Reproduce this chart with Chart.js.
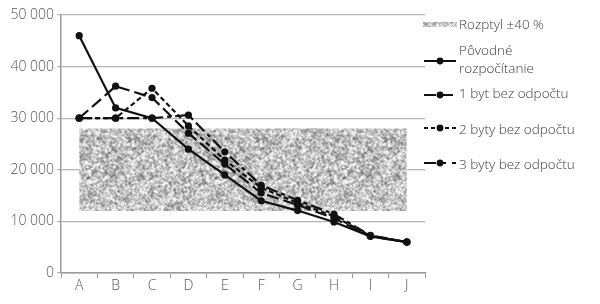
<!DOCTYPE html>
<html>
<head>
<meta charset="utf-8">
<script src="https://cdn.jsdelivr.net/npm/chart.js@4/dist/chart.umd.min.js"></script>
<style>
  html, body { margin: 0; padding: 0; background: #fff; }
  #wrap { position: relative; width: 600px; height: 304px; }
  #c { position: absolute; left: 0; top: 0; }
  .lg { position: absolute; left: 459px; font-family: "Open Sans", sans-serif; font-weight: 300; font-size: 13.5px; color: #3c3c3c; line-height: 18px; white-space: nowrap; }
  .sw { position: absolute; left: 423px; }
</style>
</head>
<body>
<div id="wrap">
  <canvas id="c" width="600" height="304"></canvas>
  <canvas class="sw" id="sw0" width="34" height="8" style="top:21px"></canvas>
  <div class="lg" style="top:15px">Rozptyl ±40 %</div>
  <canvas class="sw" id="sw1" width="34" height="10" style="top:56px"></canvas>
  <div class="lg" style="top:41px">Pôvodné<br>rozpočítanie</div>
  <canvas class="sw" id="sw2" width="34" height="10" style="top:90px"></canvas>
  <div class="lg" style="top:84px">1 byt bez odpočtu</div>
  <canvas class="sw" id="sw3" width="34" height="10" style="top:123px"></canvas>
  <div class="lg" style="top:120px">2 byty bez odpočtu</div>
  <canvas class="sw" id="sw4" width="34" height="10" style="top:158px"></canvas>
  <div class="lg" style="top:155px">3 byty bez odpočtu</div>
</div>
<script>
// ---- data ----
const categories = ['A','B','C','D','E','F','G','H','I','J'];
const povodne = [46000, 32000, 30000, 24000, 19000, 14000, 12100, 9900, 7100, 6000];
const byt1    = [30000, 36200, 34000, 27100, 21100, 15500, 13200, 10600, 7100, 6000];
const byty2   = [30000, 30000, 35800, 28500, 21900, 16500, 13600, 11000, 7200, 6000];
const byty3   = [30000, 30000, 30000, 30600, 23500, 17000, 14100, 11400, 7300, 6000];
const rozptylHorna = [28000, 28000, 28000, 28000, 28000, 28000, 28000, 28000, 28000, 28000];
const rozptylDolna = [12000, 12000, 12000, 12000, 12000, 12000, 12000, 12000, 12000, 12000];
const yTicks = [0, 10000, 20000, 30000, 40000, 50000];

// ---- texture for the band (deterministic noise, styling only) ----
function makeNoise(w, h) {
  const cv = document.createElement('canvas');
  cv.width = w; cv.height = h;
  const cx = cv.getContext('2d');
  const img = cx.createImageData(w, h);
  let a = 1337;
  const rnd = () => {
    a |= 0; a = a + 0x6D2B79F5 | 0;
    let t = Math.imul(a ^ a >>> 15, 1 | a);
    t = t + Math.imul(t ^ t >>> 7, 61 | t) ^ t;
    return ((t ^ t >>> 14) >>> 0) / 4294967296;
  };
  const base = [];
  for (let i = 0; i < w * h; i++) base.push(rnd());
  for (let y = 0; y < h; y++) for (let x = 0; x < w; x++) {
    let v = 0, n = 0;
    for (let dy = -1; dy <= 1; dy++) for (let dx = -1; dx <= 1; dx++) {
      const xx = (x + dx + w) % w, yy = (y + dy + h) % h;
      const wgt = (dx === 0 && dy === 0) ? 4 : 1;
      v += base[yy * w + xx] * wgt; n += wgt;
    }
    v /= n;
    const g = Math.max(110, Math.min(245, Math.round(196 + (v - 0.5) * 240)));
    const i = (y * w + x) * 4;
    img.data[i] = g; img.data[i+1] = g; img.data[i+2] = g; img.data[i+3] = 255;
  }
  cx.putImageData(img, 0, 0);
  return cv;
}
const noise = makeNoise(128, 128);
const ctx = document.getElementById('c').getContext('2d');
const pattern = ctx.createPattern(noise, 'repeat');

const lineStyle = (label, data, dash) => ({
  label, data, borderColor: '#111', backgroundColor: '#111', borderWidth: 2.2,
  borderDash: dash, pointRadius: 3.6, pointHoverRadius: 3.6, pointBackgroundColor: '#111',
  pointBorderWidth: 0, tension: 0, fill: false, order: 1
});

new Chart(ctx, {
  type: 'line',
  data: {
    labels: categories,
    datasets: [
      lineStyle('3 byty bez odpočtu', byty3, [12, 4, 4, 4]),
      lineStyle('2 byty bez odpočtu', byty2, [5, 3]),
      lineStyle('1 byt bez odpočtu', byt1, [12, 5]),
      lineStyle('Pôvodné rozpočítanie', povodne, []),
      { label: 'dolna', data: rozptylDolna, pointRadius: 0, borderWidth: 0, borderColor: 'rgba(0,0,0,0)', fill: false, order: 10 },
      { label: 'Rozptyl ±40 %', data: rozptylHorna, pointRadius: 0, borderWidth: 0, borderColor: 'rgba(0,0,0,0)', backgroundColor: pattern, fill: '-1', order: 9 }
    ]
  },
  options: {
    responsive: false,
    animation: false,
    layout: { padding: { left: 0, right: 175, top: 15, bottom: 0 } },
    plugins: { legend: { display: false }, tooltip: { enabled: false } },
    scales: {
      x: {
        offset: true,
        grid: { offset: true, drawOnChartArea: false, drawTicks: true, tickLength: 5, color: '#9a9a9a' },
        border: { color: '#9a9a9a', width: 1.5 },
        ticks: { color: '#555', font: { family: 'Open Sans', size: 14, weight: 300 }, padding: 0 },
        afterFit: s => { s.height = 31; }
      },
      y: {
        min: 0, max: 50000,
        afterBuildTicks: s => { s.ticks = yTicks.map(v => ({ value: v })); },
        grid: { color: '#b4b4b4', tickLength: 4, lineWidth: 1.2 },
        border: { color: '#9a9a9a', width: 1.5 },
        ticks: {
          color: '#555', font: { family: 'Open Sans', size: 14, weight: 300 }, padding: 3,
          callback: v => v === 0 ? '0' : String(v).replace(/\B(?=(\d{3})+(?!\d))/g, ' ')
        },
        afterFit: s => { s.width = 61; }
      }
    }
  }
});

// ---- legend swatches ----
(function () {
  const sw0 = document.getElementById('sw0').getContext('2d');
  sw0.fillStyle = sw0.createPattern(noise, 'repeat');
  sw0.fillRect(0, 1, 34, 5);
  const dashes = [null, [], [12, 5], [4, 3], [12, 6, 4, 6]];
  for (let i = 1; i <= 4; i++) {
    const c = document.getElementById('sw' + i).getContext('2d');
    c.strokeStyle = '#111'; c.lineWidth = 2; c.setLineDash(dashes[i]);
    c.beginPath(); c.moveTo(1, 5); c.lineTo(33, 5); c.stroke();
    c.fillStyle = '#111'; c.beginPath(); c.arc(17, 5, 3.4, 0, Math.PI * 2); c.fill();
  }
})();
</script>
</body>
</html>
